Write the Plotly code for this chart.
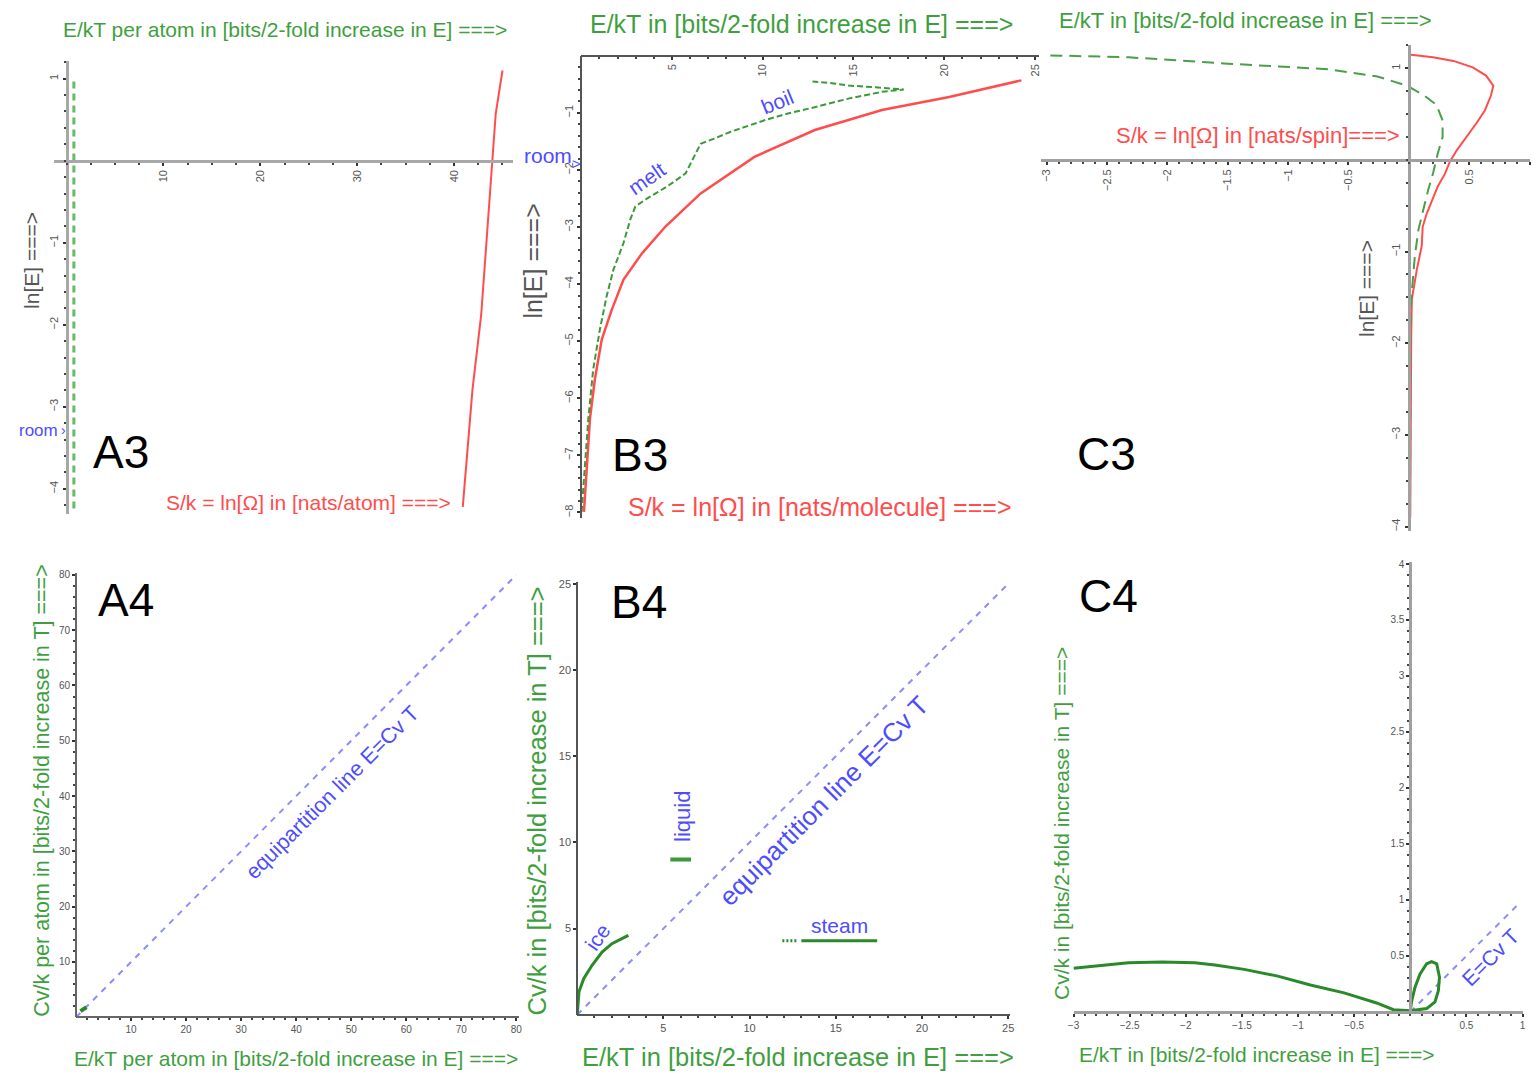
import numpy as np
import plotly.graph_objects as go

W, H = 1535, 1074
FONT = "Liberation Sans, Arial, sans-serif"
GREEN_T = "#3f9f3f"
RED = "#ff4d4d"
BLUE_T = "#4d4dff"
BLUE_L = "#8c8cff"
DGREEN = "#2a8a2a"

# ---------------- data ----------------
# A3 : ln[E] vs S/k and E/kT (per atom)
A3_S = [40.9, 41.9, 42.8, 43.5, 44.0, 44.3, 45.0]
A3_LNE_S = [-4.22, -2.79, -1.88, -0.76, -0.03, 0.57, 1.10]
A3_EKT = [0.75, 0.75, 0.75]
A3_LNE_EKT = [-4.24, -1.5, 1.02]
A3_XTICKS = [10, 20, 30, 40]
A3_YTICKS = [1, -1, -2, -3, -4]

# B3 : water
B3_S = [0.15, 0.3, 0.48, 0.75, 1.13, 1.68, 2.33, 3.35, 4.64, 6.58, 9.54, 12.87, 16.57, 20.27, 24.25]
B3_LNE_S = [-7.99, -7.24, -6.36, -5.67, -4.97, -4.45, -3.92, -3.46, -2.99, -2.41, -1.77, -1.30, -0.95, -0.72, -0.43]
B3_EKT = [0.02, 0.2, 0.39, 0.66, 1.03, 1.4, 1.77, 2.33, 2.7, 2.98, 3.62, 4.73, 5.75, 6.21, 6.58,
          7.32, 8.24, 10.09, 11.39, 12.87, 14.72, 16.57, 17.77, 16.57, 14.72, 13.8, 12.74]
B3_LNE_EKT = [-7.99, -7.24, -6.36, -5.49, -4.79, -4.21, -3.75, -3.28, -2.87, -2.64, -2.5, -2.29, -2.06, -1.77, -1.54,
              -1.45, -1.33, -1.13, -1.01, -0.90, -0.75, -0.63, -0.59, -0.56, -0.52, -0.48, -0.45]
B3_XTICKS = [5, 10, 15, 20, 25]
B3_YTICKS = [-1, -2, -3, -4, -5, -6, -7, -8]

# C3 : spin system
C3_S = [0.0, 0.2, 0.37, 0.53, 0.64, 0.70, 0.68, 0.63, 0.56, 0.48, 0.40, 0.34, 0.30, 0.24, 0.19, 0.15,
        0.115, 0.107, 0.066, 0.038, 0.025, 0.02, 0.012]
C3_LNE_S = [1.15, 1.12, 1.08, 1.01, 0.92, 0.81, 0.70, 0.54, 0.40, 0.25, 0.11, -0.02, -0.15, -0.29, -0.44, -0.58,
            -0.73, -0.94, -1.2, -1.42, -1.52, -1.92, -3.9]
C3_EKT = [-2.97, -2.32, -1.5, -0.67, -0.26, -0.016, 0.13, 0.23, 0.28, 0.28, 0.24, 0.2, 0.16, 0.12, 0.08,
          0.05, 0.04, 0.025, 0.015, 0.01]
C3_LNE_EKT = [1.14, 1.12, 1.05, 0.99, 0.91, 0.81, 0.70, 0.6, 0.43, 0.25, 0.07, -0.15, -0.33, -0.55, -0.76,
              -1.05, -1.2, -1.42, -1.6, -3.9]
C3_XTICKS = [-3, -2.5, -2, -1.5, -1, -0.5, 0.5, 1]
C3_YTICKS = [1, -1, -2, -3, -4]

# A4
A4_EQ = [0, 80]
A4_MARK_X = [0.8, 1.9]
A4_MARK_Y = [1.1, 1.8]
A4_TICKS = [10, 20, 30, 40, 50, 60, 70, 80]

# B4
B4_EQ = [0, 25]
B4_ICE_X = [0, 0.1, 0.38, 0.86, 1.44, 2.01, 2.59, 2.97]
B4_ICE_Y = [0, 1.33, 2.1, 2.87, 3.64, 4.12, 4.41, 4.6]
B4_LIQ_X = [5.4, 6.6]
B4_LIQ_Y = [9.0, 9.0]
B4_STEAM_DOT_X = [11.9, 12.8]
B4_STEAM_X = [13.0, 17.4]
B4_STEAM_Y = [4.29, 4.29]
B4_TICKS = [5, 10, 15, 20, 25]

# C4
C4_EQ = [0, 0.97]
C4_EKT = [-3.0, -2.71, -2.51, -2.21, -1.92, -1.74, -1.48, -1.18, -0.89, -0.59, -0.30, -0.15, 0.0,
          0.146, 0.22, 0.25, 0.26, 0.235, 0.19, 0.146, 0.087, 0.042, 0.013, 0.0]
C4_CV = [0.39, 0.42, 0.44, 0.445, 0.44, 0.42, 0.38, 0.32, 0.24, 0.17, 0.08, 0.02, 0.01,
         0.03, 0.09, 0.19, 0.31, 0.43, 0.45, 0.43, 0.34, 0.22, 0.10, 0.015]
C4_XTICKS = [-3, -2.5, -2, -1.5, -1, -0.5, 0.5, 1]
C4_YTICKS = [0.5, 1, 1.5, 2, 2.5, 3, 3.5, 4]

# ---------------- panel geometry (pixel origin, px per unit, ranges) ----------------
PANELS = {
    "A3": dict(n=1, ox=61, oy=157.3, sx=9.75, sy=82.35, xr=[-1.3, 46.1], yr=[-4.3, 1.22]),
    "B3": dict(n=2, ox=579, oy=52, sx=18.27, sy=57.3, xr=[0, 25.2], yr=[-8.1, 0]),
    "C3": dict(n=3, ox=1412, oy=156.5, sx=121.5, sy=92, xr=[-3.05, 1.0], yr=[-4.05, 1.25]),
    "A4": dict(n=4, ox=70.5, oy=1017, sx=5.54, sy=5.55, xr=[0, 80.5], yr=[0, 80.3]),
    "B4": dict(n=5, ox=575, oy=1014.5, sx=17.35, sy=17.3, xr=[0, 25.1], yr=[0, 25.1]),
    "C4": dict(n=6, ox=1413.5, oy=1011.7, sx=113, sy=112.4, xr=[-3.0, 1.0], yr=[0, 4.02]),
}

fig = go.Figure()
layout = dict(width=W, height=H, margin=dict(l=0, r=0, t=0, b=0),
              paper_bgcolor="white", plot_bgcolor="rgba(0,0,0,0)", showlegend=False,
              font=dict(family=FONT))


def fmt(v):
    return ("%g" % v).replace("-", "\u2212")


def add_axes(name, xticks, yticks, xminor, yminor, angle, lcolor, lwidth, tsize):
    g = PANELS[name]
    n = g["n"]
    sfx = "" if n == 1 else str(n)
    xd = [(g["ox"] + g["sx"] * g["xr"][0]) / W, (g["ox"] + g["sx"] * g["xr"][1]) / W]
    yd = [1 - (g["oy"] - g["sy"] * g["yr"][0]) / H, 1 - (g["oy"] - g["sy"] * g["yr"][1]) / H]
    common = dict(showgrid=False, zeroline=False, showline=True, linecolor=lcolor, linewidth=lwidth,
                  ticks="outside", ticklen=3, tickwidth=1.5, tickcolor="#333",
                  tickfont=dict(size=tsize, color="#555", family=FONT), tickangle=angle,
                  anchor="free", fixedrange=True)
    layout["xaxis" + sfx] = dict(common, domain=xd, range=g["xr"], position=1 - g["oy"] / H,
                                 tickmode="array", tickvals=xticks, ticktext=[fmt(v) for v in xticks],
                                 minor=dict(tickmode="array", tickvals=list(xminor), ticks="outside",
                                            ticklen=2, tickwidth=1.5, tickcolor="#444"))
    layout["yaxis" + sfx] = dict(common, domain=yd, range=g["yr"], position=g["ox"] / W,
                                 tickmode="array", tickvals=yticks, ticktext=[fmt(v) for v in yticks],
                                 minor=dict(tickmode="array", tickvals=list(yminor), ticks="outside",
                                            ticklen=2, tickwidth=1.5, tickcolor="#444"))
    return ("x" + sfx, "y" + sfx)


def rng(a, b, s):
    return np.round(np.arange(a, b + s / 2, s), 4)


ax = {}
ax["A3"] = add_axes("A3", A3_XTICKS, A3_YTICKS, rng(0, 45, 2.5), rng(-4.2, 1.2, 0.2), -90, "#a8a8a8", 3, 11)
ax["B3"] = add_axes("B3", B3_XTICKS, B3_YTICKS, rng(1, 25, 1), rng(-8, -0.2, 0.2), -90, "#555555", 2, 11)
ax["C3"] = add_axes("C3", C3_XTICKS, C3_YTICKS, rng(-3, 1, 0.1), rng(-4, 1.25, 0.25), -90, "#a0a0a0", 3, 11)
ax["A4"] = add_axes("A4", A4_TICKS, A4_TICKS, rng(2, 80, 2), rng(2, 80, 2), 0, "#666666", 2, 10)
ax["B4"] = add_axes("B4", B4_TICKS, B4_TICKS, rng(1, 25, 1), [], 0, "#555555", 2, 11)
ax["C4"] = add_axes("C4", C4_XTICKS, C4_YTICKS, rng(-3, 1, 0.1), rng(0.1, 4, 0.1), 0, "#a0a0a0", 3, 10)


def line(p, x, y, color, width, dash="solid"):
    xa, ya = ax[p]
    fig.add_trace(go.Scatter(x=x, y=y, mode="lines", xaxis=xa, yaxis=ya, hoverinfo="skip",
                             line=dict(color=color, width=width, dash=dash)))


# A3
line("A3", A3_S, A3_LNE_S, RED, 2)
line("A3", A3_EKT, A3_LNE_EKT, "#66bb66", 3, "7px,5px")
# B3
line("B3", B3_S, B3_LNE_S, RED, 2.5)
line("B3", B3_EKT, B3_LNE_EKT, "#3a9a3a", 2, "6px,3px")
# C3
line("C3", C3_S, C3_LNE_S, RED, 2)
line("C3", C3_EKT, C3_LNE_EKT, "#4a9f4a", 2, "12px,7px")
# A4
line("A4", A4_EQ, A4_EQ, BLUE_L, 2, "6px,6px")
line("A4", A4_MARK_X, A4_MARK_Y, DGREEN, 4)
# B4
line("B4", B4_EQ, B4_EQ, BLUE_L, 2, "6px,6px")
line("B4", B4_ICE_X, B4_ICE_Y, DGREEN, 3)
line("B4", B4_LIQ_X, B4_LIQ_Y, "#3a9a3a", 4)
line("B4", B4_STEAM_DOT_X, B4_STEAM_Y, DGREEN, 3, "2px,2px")
line("B4", B4_STEAM_X, B4_STEAM_Y, DGREEN, 3)
# C4
line("C4", C4_EQ, C4_EQ, BLUE_L, 2, "6px,6px")
line("C4", C4_EKT, C4_CV, DGREEN, 3)

ann = []


def ptxt(px, py, text, size, color, angle=0):
    ann.append(dict(x=px / W, y=1 - py / H, xref="paper", yref="paper", text=text, showarrow=False,
                    xanchor="center", yanchor="middle", textangle=angle,
                    font=dict(size=size, color=color, family=FONT)))


def dtxt(p, x, y, text, size, color, angle=0):
    xa, ya = ax[p]
    ann.append(dict(x=x, y=y, xref=xa, yref=ya, text=text, showarrow=False,
                    xanchor="center", yanchor="middle", textangle=angle,
                    font=dict(size=size, color=color, family=FONT)))


# A3 texts
ptxt(281, 26, "E/kT per atom in [bits/2-fold increase in E] ===>", 21, GREEN_T)
ptxt(304, 500, "S/k = ln[\u03a9] in [nats/atom] ===>", 21, RED)
ptxt(25, 257, "ln[E] ===>", 21, "#555", -90)
ptxt(33, 428, "room", 17, BLUE_T)
ptxt(58, 428, "\u203a", 14, BLUE_T)
ptxt(116, 450, "A3", 46, "black")
# B3 texts
ptxt(801, 20, "E/kT in [bits/2-fold increase in E] ===>", 25, GREEN_T)
ptxt(819, 505, "S/k = ln[\u03a9] in [nats/molecule] ===>", 25, RED)
ptxt(530, 258, "ln[E] ===>", 25, "#555", -90)
ptxt(546, 152, "room", 21, BLUE_T)
ptxt(574, 160, ">", 15, BLUE_T)
dtxt("B3", 3.61, -2.15, "melt", 21, BLUE_T, -35)
dtxt("B3", 10.84, -0.80, "boil", 21, BLUE_T, -22)
ptxt(638, 453, "B3", 46, "black")
# C3 texts
ptxt(1248, 17, "E/kT in [bits/2-fold increase in E] ===>", 22, GREEN_T)
ptxt(1260, 132, "S/k = ln[\u03a9] in [nats/spin]===>", 22, RED)
ptxt(1370, 286, "ln[E] ===>", 21, "#555", -90)
ptxt(1108, 452, "C3", 46, "black")
# A4 texts
ptxt(121, 598, "A4", 46, "black")
ptxt(36, 789, "Cv/k per atom in [bits/2-fold increase in T] ===>", 21.5, GREEN_T, -90)
ptxt(292, 1058, "E/kT per atom in [bits/2-fold increase in E] ===>", 21, GREEN_T)
dtxt("A4", 46.5, 40.6, "equipartition line E=Cv T", 21.5, BLUE_T, -45)
# B4 texts
ptxt(637, 600, "B4", 46, "black")
ptxt(535, 800, "Cv/k in [bits/2-fold increase in T] ===>", 25.5, GREEN_T, -90)
ptxt(797, 1057, "E/kT in [bits/2-fold increase in E] ===>", 25.5, GREEN_T)
dtxt("B4", 14.3, 12.4, "equipartition line E=Cv T", 26, BLUE_T, -45)
dtxt("B4", 6.1, 11.5, "liquid", 22, BLUE_T, -90)
dtxt("B4", 1.15, 4.5, "ice", 21, BLUE_T, -55)
dtxt("B4", 15.2, 5.2, "steam", 21, BLUE_T)
# C4 texts
ptxt(1110, 594, "C4", 46, "black")
ptxt(1063, 823, "Cv/k in [bits/2-fold increase in T] ===>", 21, GREEN_T, -90)
ptxt(1259, 1054, "E/kT in [bits/2-fold increase in E] ===>", 21, GREEN_T)
dtxt("C4", 0.71, 0.49, "E=Cv T", 21, BLUE_T, -45)

layout["annotations"] = ann
fig.update_layout(**layout)
fig.write_html("out.html", config={"displayModeBar": False},
               post_script="document.body.style.margin='0';document.body.style.padding='0';"
                           "document.body.style.overflow='hidden';")
